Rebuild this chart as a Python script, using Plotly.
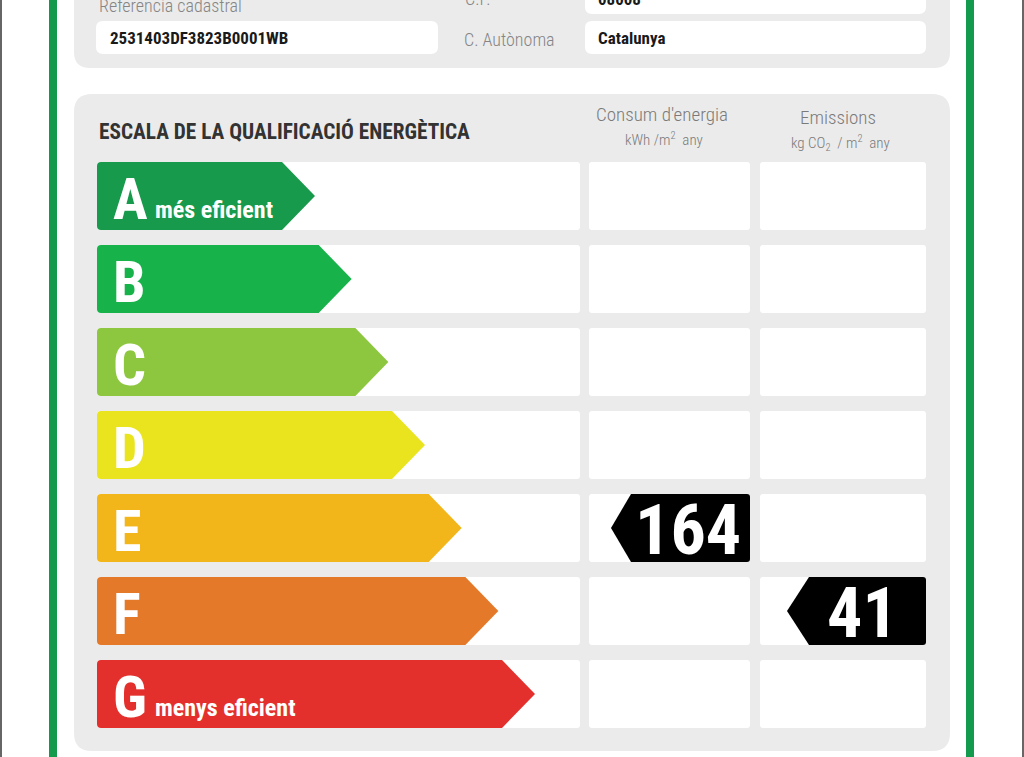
import plotly.graph_objects as go

# ---------------- data ----------------
classes = ["A", "B", "C", "D", "E", "F", "G"]
class_colors = ["#179a4b", "#17b24a", "#8dc63f", "#eae41e", "#f3b61a", "#e5792a", "#e3302c"]
class_notes = ["més eficient", "", "", "", "", "", "menys eficient"]

energy_value = 164
energy_class = "E"
emission_value = 41
emission_class = "F"

title_text = "ESCALA DE LA QUALIFICACIÓ ENERGÈTICA"
col1_title = "Consum d'energia"
col1_unit = "kWh /m<sup>2</sup>  any"
col2_title = "Emissions"
col2_unit = "kg CO<sub>2</sub>  / m<sup>2</sup>  any"

ref_label = "Referencia cadastral"
ref_value = "2531403DF3823B0001WB"
cp_label = "C.P."
cp_value = "08008"
ca_label = "C. Autònoma"
ca_value = "Catalunya"

# ---------------- helpers ----------------
COND = "Roboto Condensed, Open Sans Condensed, Liberation Sans Narrow, sans-serif"


def rrect(x0, y0, x1, y1, r):
    return (f"M {x0+r},{y0} L {x1-r},{y0} Q {x1},{y0} {x1},{y0+r} "
            f"L {x1},{y1-r} Q {x1},{y1} {x1-r},{y1} L {x0+r},{y1} "
            f"Q {x0},{y1} {x0},{y1-r} L {x0},{y0+r} Q {x0},{y0} {x0+r},{y0} Z")


def arrow_right(x0, y0, x1, y1, depth, r=4):
    ym = (y0 + y1) / 2
    s = x1 - depth
    return (f"M {x0+r},{y0} L {s},{y0} L {x1},{ym} L {s},{y1} L {x0+r},{y1} "
            f"Q {x0},{y1} {x0},{y1-r} L {x0},{y0+r} Q {x0},{y0} {x0+r},{y0} Z")


def arrow_left(x0, y0, x1, y1, depth, r=3):
    ym = (y0 + y1) / 2
    s = x0 + depth
    return (f"M {s},{y0} L {x1-r},{y0} Q {x1},{y0} {x1},{y0+r} L {x1},{y1-r} "
            f"Q {x1},{y1} {x1-r},{y1} L {s},{y1} L {x0},{ym} Z")


shapes = []
annotations = []


def add_path(path, color):
    shapes.append(dict(type="path", xref="x", yref="y", path=path,
                       fillcolor=color, line=dict(color=color, width=0), layer="above"))


def add_text(x, y, text, size, color, xanchor="left", yanchor="middle", weight=400, yshift=0):
    annotations.append(dict(x=x, y=y, xref="x", yref="y", text=text, showarrow=False,
                            xanchor=xanchor, yanchor=yanchor, yshift=yshift,
                            font=dict(family=COND, size=size, color=color, weight=weight)))


PANEL = "#ebebeb"
LABEL = "#858585"

# outer frame lines
add_path("M 0,-5 L 2,-5 L 2,765 L 0,765 Z", "#666666")
add_path("M 1022,-5 L 1024,-5 L 1024,765 L 1022,765 Z", "#666666")
# green frame
add_path("M 49,-5 L 57,-5 L 57,765 L 49,765 Z", "#149a4c")
add_path("M 966,-5 L 974,-5 L 974,765 L 966,765 Z", "#149a4c")

# top info panel
add_path(rrect(74, -40, 950, 68, 16), PANEL)
add_path(rrect(96, 21, 438, 54, 7), "#ffffff")
add_path(rrect(585, -20, 926, 14, 7), "#ffffff")
add_path(rrect(585, 21, 926, 54, 7), "#ffffff")
add_text(97, 5, ref_label, 18, LABEL, weight=300)
add_text(108, 38, ref_value, 17, "#1a1a1a", weight=700)
add_text(463, 0.5, cp_label, 18, LABEL, weight=300, yshift=2)
add_text(596, 0.5, cp_value, 17, "#1a1a1a", weight=700, yshift=2)
add_text(462, 39, ca_label, 18, LABEL, weight=300)
add_text(596, 38, ca_value, 17, "#1a1a1a", weight=700)

# main panel
add_path(rrect(74, 94, 950, 751, 18), PANEL)
add_text(97, 131, title_text, 21.3, "#333333", weight=700)
add_text(662, 114, col1_title, 19, "#7a7a7a", xanchor="center", weight=300)
add_text(664, 139, col1_unit, 15, "#7a7a7a", xanchor="center", weight=300)
add_text(838, 117, col2_title, 19, "#7a7a7a", xanchor="center", weight=300)
add_text(840, 143, col2_unit, 15, "#7a7a7a", xanchor="center", weight=300)

ROW0, ROWSTEP, ROWH = 162, 83, 68
for i, (cls, col, note) in enumerate(zip(classes, class_colors, class_notes)):
    y0 = ROW0 + ROWSTEP * i
    y1 = y0 + ROWH
    yc = (y0 + y1) / 2
    add_path(rrect(97, y0, 580, y1, 3), "#ffffff")
    add_path(rrect(589, y0, 750, y1, 3), "#ffffff")
    add_path(rrect(760, y0, 926, y1, 3), "#ffffff")
    tip = 315 + 36.67 * i
    add_path(arrow_right(97, y0, tip, y1, 33), col)
    add_text(111, yc + 3, cls, 58, "#ffffff", weight=700)
    if note:
        add_text(153, yc + 14, note, 24, "#ffffff", weight=700)

# value markers
ei = classes.index(energy_class)
ey0 = ROW0 + ROWSTEP * ei
add_path(arrow_left(611, ey0, 750, ey0 + ROWH, 20), "#000000")
add_text(688, ey0 + ROWH / 2 + 2, str(energy_value), 70, "#ffffff", xanchor="center", weight=700)

mi = classes.index(emission_class)
my0 = ROW0 + ROWSTEP * mi
add_path(arrow_left(787, my0, 926, my0 + ROWH, 22), "#000000")
add_text(862, my0 + ROWH / 2 + 2, str(emission_value), 70, "#ffffff", xanchor="center", weight=700)

fig = go.Figure()
fig.add_trace(go.Scatter(x=[0, 1024], y=[0, 757], mode="markers",
                         marker=dict(opacity=0), hoverinfo="skip", showlegend=False))
fig.update_layout(
    width=1024, height=757,
    margin=dict(l=0, r=0, t=0, b=0),
    paper_bgcolor="#ffffff", plot_bgcolor="#ffffff",
    xaxis=dict(range=[0, 1024], visible=False, fixedrange=True),
    yaxis=dict(range=[757, 0], visible=False, fixedrange=True),
    shapes=shapes, annotations=annotations, showlegend=False,
)
fig.write_html("out.html", config={"displayModeBar": False},
               post_script="document.body.style.margin='0';document.body.style.overflow='hidden';")
